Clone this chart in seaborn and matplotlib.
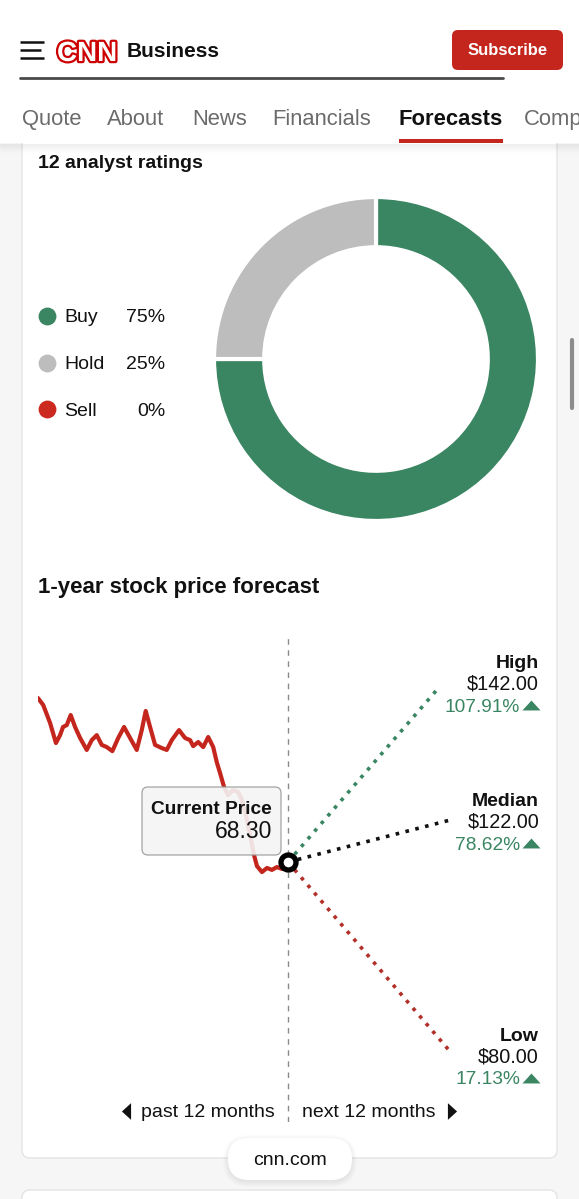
import matplotlib
matplotlib.use('Agg')

import numpy as np
import pandas as pd
import matplotlib.pyplot as plt
import seaborn as sns
from matplotlib.patches import FancyBboxPatch, Rectangle
import matplotlib.patheffects as pe

# ---- data ----
n_analysts = 12
rating_labels = ['Buy', 'Hold', 'Sell']
rating_pct = [75, 25, 0]
rating_colors = ['#3a8562', '#bdbdbd', '#cc2a20']

past_months = [-12.0, -11.75, -11.42, -11.14, -10.94, -10.8, -10.62, -10.43, -10.22, -9.98,
               -9.66, -9.42, -9.18, -8.94, -8.7, -8.43, -8.15, -7.87, -7.58, -7.26,
               -7.02, -6.83, -6.62, -6.38, -6.06, -5.82, -5.58, -5.23, -4.94, -4.7,
               -4.55, -4.31, -4.07, -3.83, -3.59, -3.42, -3.26, -3.07, -2.88, -2.64,
               -2.4, -2.21, -2.02, -1.82, -1.63, -1.49, -1.25, -1.01, -0.77, -0.53,
               -0.29, 0.0]
past_prices = [136.9, 134.0, 126.5, 118.1, 121.4, 124.8, 125.6, 129.8, 124.8, 120.2,
               115.2, 119.3, 121.4, 117.3, 116.4, 114.7, 120.2, 124.8, 120.2, 115.2,
               123.5, 131.5, 124.8, 117.3, 116.0, 115.2, 119.3, 123.5, 120.2, 119.3,
               116.8, 118.5, 116.4, 120.6, 116.4, 110.1, 105.5, 99.7, 96.3, 98.4,
               97.6, 94.2, 88.0, 79.6, 71.2, 66.6, 64.1, 65.8, 65.0, 66.2,
               65.4, 68.3]
current_price = 68.30

forecast_labels = ['High', 'Median', 'Low']
forecast_targets = [142.00, 122.00, 80.00]
forecast_change = [107.91, 78.62, 17.13]
forecast_colors = ['#3a8562', '#111111', '#b3302a']
# CNN draws the fan schematically, not on the price scale
fan_end_month = [7.3, 7.8, 7.8]
fan_end_level = [141.9, 85.9, -11.2]

tab_labels = ['Quote', 'About', 'News', 'Financials', 'Forecasts', 'Comp']
active_tab = 'Forecasts'

# ---- styling ----
sns.set_theme(style='white')
plt.rcParams['font.family'] = ['Liberation Sans', 'DejaVu Sans']

W, H = 579, 1199
RED = '#c4261d'
GREEN = '#3a8562'
PAGE = '#f6f6f6'
UP_TRI = [(-1, -0.55), (1, -0.55), (0, 0.55)]
LEFT_TRI = [(0.55, 1), (0.55, -1), (-0.55, 0)]
RIGHT_TRI = [(-0.55, 1), (-0.55, -1), (0.55, 0)]


def frac(x0, y0, x1, y1):
    return [x0 / W, 1 - y1 / H, (x1 - x0) / W, (y1 - y0) / H]


fig = plt.figure(figsize=(W / 100, H / 100), dpi=100, facecolor=PAGE)

bg = fig.add_axes([0, 0, 1, 1])
bg.set_xlim(0, W)
bg.set_ylim(H, 0)
bg.axis('off')

# cards
bg.add_patch(FancyBboxPatch((22, 100), 535, 1058, boxstyle='round,pad=0,rounding_size=8',
                            fc='white', ec='#e4e4e4', lw=1))
bg.add_patch(FancyBboxPatch((22, 1190), 535, 80, boxstyle='round,pad=0,rounding_size=8',
                            fc='white', ec='#e4e4e4', lw=1))

# header
bg.add_patch(Rectangle((0, 0), W, 143, fc='white', ec='none', zorder=3))
for i in range(9):
    bg.plot([0, W], [143.5 + i, 143.5 + i], color='black', alpha=0.06 * (1 - i / 9), lw=0.8, zorder=3)
for y, x1 in zip([42, 50, 58], [44, 41, 44]):
    bg.plot([20, x1], [y, y], color='#111111', lw=1.8, solid_capstyle='butt', zorder=4)
bg.text(57, 61, 'CNN', fontsize=20, fontweight='bold', color='white', zorder=4,
        path_effects=[pe.Stroke(linewidth=3.2, foreground='#cc0000'), pe.Normal()])
bg.text(127, 57, 'Business', fontsize=15, fontweight='bold', color='#111111', zorder=4)
bg.add_patch(FancyBboxPatch((452, 30), 111, 40, boxstyle='round,pad=0,rounding_size=6',
                            fc=RED, ec='none', zorder=4))
bg.text(507.5, 55, 'Subscribe', fontsize=12, fontweight='bold', color='white', ha='center', zorder=5)
bg.plot([20, 503], [78, 78], color='#4a4a4a', lw=2, zorder=4)

# last tab runs off the screen edge, as in the screenshot
tab_x = [22, 107, 192, 272, 399, 524]
for x, lab in zip(tab_x, tab_labels):
    active = lab == active_tab
    bg.text(x, 125, lab, fontsize=15.8, color='#111111' if active else '#6b6b6b',
            fontweight='bold' if active else 'normal', zorder=4)
bg.add_patch(Rectangle((399, 139), 104, 4, fc=RED, ec='none', zorder=4))

# scrollbar
bg.plot([572, 572], [340, 408], color='#8c8c8c', lw=3, solid_capstyle='round')

# ---- ratings ----
bg.text(38, 168, f'{n_analysts} analyst ratings', fontsize=14, fontweight='bold', color='#111111')
for i, (lab, pct, col) in enumerate(zip(rating_labels, rating_pct, rating_colors)):
    yc = 316 + i * 46.5
    bg.scatter([47], [yc], s=165, color=col, linewidth=0)
    bg.text(64, yc + 6.5, lab, fontsize=14, color='#111111')
    bg.text(165, yc + 6.5, f'{pct}%', fontsize=14, color='#111111', ha='right')

dax = fig.add_axes(frac(214, 197, 538, 521))
vals = [v for v in rating_pct if v > 0]
cols = [c for v, c in zip(rating_pct, rating_colors) if v > 0]
dax.pie(vals, colors=cols, startangle=90, counterclock=False, radius=1,
        wedgeprops=dict(width=0.31, edgecolor='white', linewidth=3))
dax.set_xlim(-1.0, 1.0)
dax.set_ylim(-1.0, 1.0)

# ---- forecast chart ----
bg.text(38, 593, '1-year stock price forecast', fontsize=16, fontweight='bold', color='#111111')

cax = fig.add_axes(frac(38, 635, 538, 1122))
cax.patch.set_alpha(0)
df = pd.DataFrame({'month': past_months, 'price': past_prices})
sns.lineplot(data=df, x='month', y='price', ax=cax, color=RED, lw=3.0, errorbar=None,
             solid_capstyle='round', solid_joinstyle='round', zorder=2)
cax.axvline(0, color='#8a8a8a', lw=1, ls=(0, (4, 4)), zorder=1)
for mx, lvl, col in zip(fan_end_month, fan_end_level, forecast_colors):
    cax.plot([0, mx], [current_price, lvl], color=col, lw=2.6, ls=(0, (1, 1.8)),
             dash_capstyle='butt', zorder=3)

# tooltip (drawn in page pixel coordinates, above the line)
cax.add_patch(FancyBboxPatch((142, 787), 139, 68, boxstyle='round,pad=0,rounding_size=6',
                             fc='#f4f4f4', ec='#9a9a9a', lw=0.9, alpha=0.9,
                             transform=bg.transData, zorder=6))
cax.text(272, 814, 'Current Price', fontsize=13.8, fontweight='bold', color='#111111',
         ha='right', transform=bg.transData, zorder=7)
cax.text(272, 838, f'{current_price:.2f}', fontsize=16.5, color='#111111',
         ha='right', transform=bg.transData, zorder=7)
cax.plot([0], [current_price], marker='o', ms=10.8, mew=3.8, mfc='white', mec='black',
         zorder=10, clip_on=False)

cax.set_xlim(-12, 12)
cax.set_ylim(-40.5, 163.3)
cax.axis('off')

# forecast labels
label_base = [668, 806, 1041]
for yb, lab, tgt, chg in zip(label_base, forecast_labels, forecast_targets, forecast_change):
    bg.text(539, yb, lab, fontsize=14, fontweight='bold', color='#111111', ha='right')
    bg.text(539, yb + 21.5, f'${tgt:.2f}', fontsize=14.3, color='#111111', ha='right')
    bg.text(520, yb + 43.5, f'{chg:.2f}%', fontsize=13.8, color=GREEN, ha='right')
    bg.plot([531], [yb + 36.5], marker=UP_TRI, ms=13, color=GREEN, mew=0)

# time labels
bg.plot([126], [1111], marker=LEFT_TRI, ms=12, color='#111111', mew=0)
bg.text(275, 1117, 'past 12 months', fontsize=14, color='#111111', ha='right')
bg.text(302, 1117, 'next 12 months', fontsize=14, color='#111111', ha='left')
bg.plot([452], [1111], marker=RIGHT_TRI, ms=12, color='#111111', mew=0)

# cnn.com pill with soft shadow
for k in range(6):
    bg.add_patch(FancyBboxPatch((228 - k, 1139 - k + 1), 124 + 2 * k, 42 + 2 * k,
                                boxstyle=f'round,pad=0,rounding_size={21 + k}',
                                fc='black', ec='none', alpha=0.012, zorder=7))
bg.add_patch(FancyBboxPatch((228, 1138), 124, 42, boxstyle='round,pad=0,rounding_size=21',
                            fc='white', ec='none', zorder=8))
bg.text(290, 1165, 'cnn.com', fontsize=14, color='#111111', ha='center', zorder=9)

fig.savefig('out.png', dpi=100, facecolor=PAGE)
